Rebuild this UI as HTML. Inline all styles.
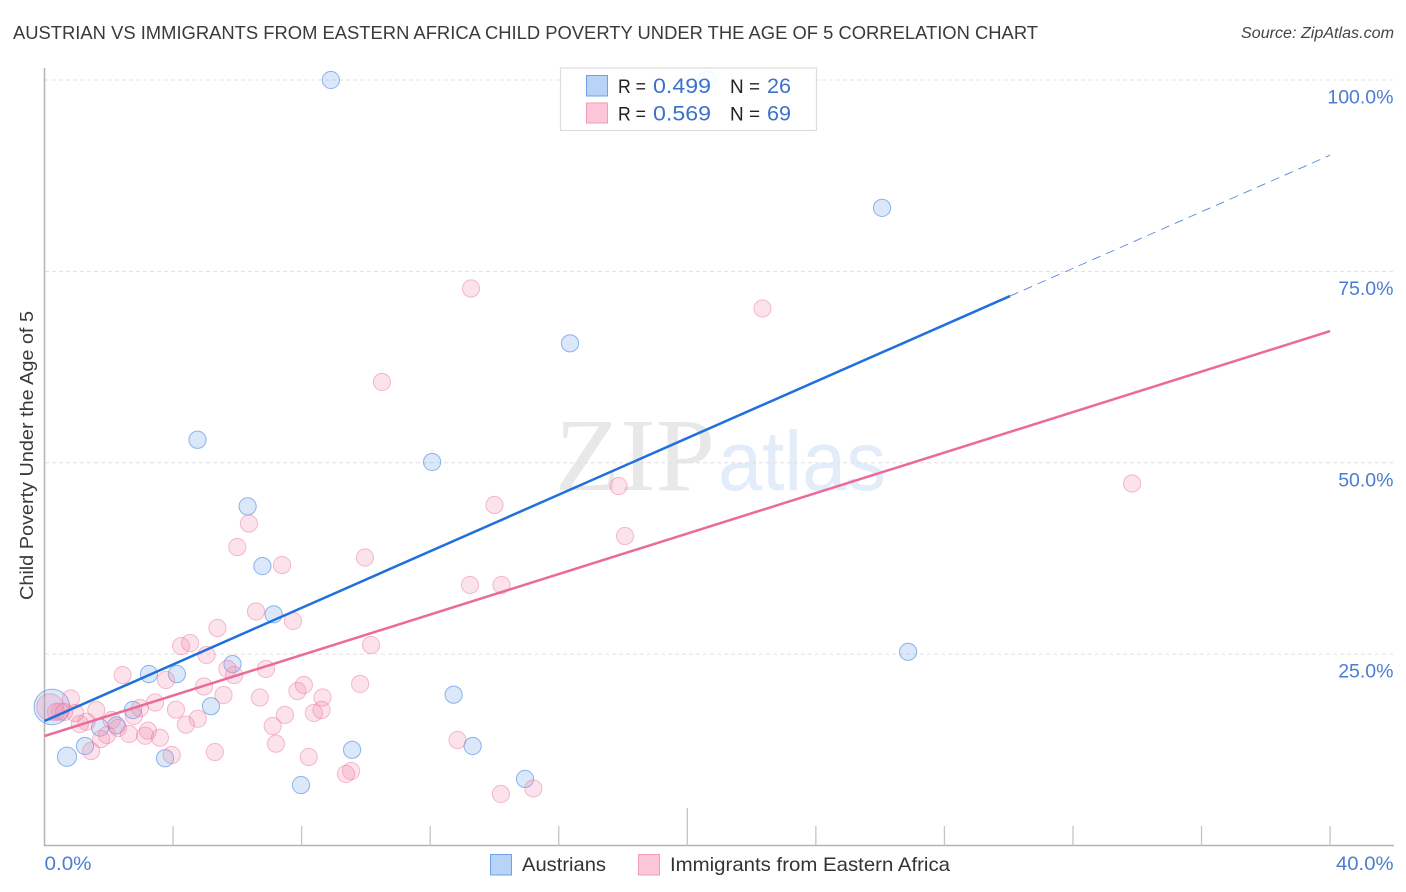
<!DOCTYPE html>
<html lang="en">
<head>
<meta charset="utf-8">
<title>Austrian vs Immigrants from Eastern Africa Child Poverty Correlation Chart</title>
<style>
html,body{margin:0;padding:0;background:#fff;}
svg{display:block;font-family:"Liberation Sans",sans-serif;}
</style>
</head>
<body>
<svg id="chart" xmlns="http://www.w3.org/2000/svg" width="1406" height="892" viewBox="0 0 1406 892">
  <rect width="1406" height="892" fill="#fff"/>
  <text x="13" y="39" font-size="18.5" fill="#3a3a3a" textLength="1025" lengthAdjust="spacingAndGlyphs">AUSTRIAN VS IMMIGRANTS FROM EASTERN AFRICA CHILD POVERTY UNDER THE AGE OF 5 CORRELATION CHART</text>
  <text x="1241" y="38" font-size="15.5" font-style="italic" fill="#444" textLength="153" lengthAdjust="spacingAndGlyphs">Source: ZipAtlas.com</text>
  <g>
    <text x="555" y="490" font-family="'Liberation Serif',serif" font-size="104" fill="#e8e8e8" textLength="160" lengthAdjust="spacingAndGlyphs">ZIP</text>
    <text x="718" y="490" font-size="84" fill="#e3ecf9" textLength="168" lengthAdjust="spacingAndGlyphs">atlas</text>
  </g>
  <g id="grid"></g>
  <g id="axes"></g>
  <g id="points"></g>
  <g id="trends"></g>
  <text transform="translate(33,455.5) rotate(-90)" font-size="18.5" fill="#3a3a3a" text-anchor="middle" textLength="289" lengthAdjust="spacingAndGlyphs">Child Poverty Under the Age of 5</text>

  <g>
    <rect x="560.5" y="68" width="256" height="62.5" fill="#fff" fill-opacity="0.88" stroke="#ddd" stroke-width="1.2"/>
    <rect x="586.5" y="75.5" width="21" height="20.5" fill="#b9d3f6" stroke="#6fa3e6"/>
    <rect x="586.5" y="103" width="21" height="20" fill="#fcc6d8" stroke="#f09dba"/>
    <text x="618" y="93" font-size="19.5" fill="#222" textLength="28" lengthAdjust="spacingAndGlyphs">R =</text>
    <text x="653" y="93" font-size="21" fill="#3a72cc" textLength="58" lengthAdjust="spacingAndGlyphs">0.499</text>
    <text x="730" y="93" font-size="19.5" fill="#222" textLength="30" lengthAdjust="spacingAndGlyphs">N =</text>
    <text x="767" y="93" font-size="21" fill="#3a72cc" textLength="24" lengthAdjust="spacingAndGlyphs">26</text>
    <text x="618" y="120.5" font-size="19.5" fill="#222" textLength="28" lengthAdjust="spacingAndGlyphs">R =</text>
    <text x="653" y="120.5" font-size="21" fill="#3a72cc" textLength="58" lengthAdjust="spacingAndGlyphs">0.569</text>
    <text x="730" y="120.5" font-size="19.5" fill="#222" textLength="30" lengthAdjust="spacingAndGlyphs">N =</text>
    <text x="767" y="120.5" font-size="21" fill="#3a72cc" textLength="24" lengthAdjust="spacingAndGlyphs">69</text>
  </g>

  <g>
    <rect x="490.5" y="854.5" width="21" height="20.5" fill="#b9d3f6" stroke="#6fa3e6"/>
    <text x="522" y="871" font-size="19.5" fill="#333" textLength="84" lengthAdjust="spacingAndGlyphs">Austrians</text>
    <rect x="638.5" y="854.5" width="21" height="20.5" fill="#fcc6d8" stroke="#f09dba"/>
    <text x="670" y="871" font-size="19.5" fill="#333" textLength="280" lengthAdjust="spacingAndGlyphs">Immigrants from Eastern Africa</text>
  </g>
</svg>
<script>
const xTickValues = [0,4,8,12,16,20,24,28,32,36,40];
const xTickLabelValues = [0,40];
const xTickLabels = ["0.0%","40.0%"];
const yGridValues = [25,50,75,100];
const yTickLabels = ["25.0%","50.0%","75.0%","100.0%"];

const austrianX = [8.91,20.61,26.06,16.35,4.76,12.06,6.32,6.78,7.13,26.87,5.85,3.25,4.12,5.18,12.73,2.75,2.24,1.73,1.26,0.70,3.75,0.23,9.57,13.32,14.95,7.98];
const austrianY = [100,100,83.3,65.6,53.0,50.1,44.3,36.5,30.2,25.3,23.7,22.4,22.4,18.2,19.7,17.7,15.7,15.4,13.0,11.6,11.4,18.1,12.5,13.0,8.7,7.9];
const austrianWeight = [1,1,1,1,1,1,1,1,1,1,1,1,1,1,1,1,1,1,1,1.25,1,4.3,1,1,1,1];

const immigrantX = [13.27,22.34,10.50,33.84,17.86,14.00,6.36,6.00,18.06,9.97,7.39,13.24,14.22,6.58,7.73,5.38,10.16,4.25,4.53,5.04,5.69,5.90,6.89,2.43,3.78,9.82,4.96,8.07,7.87,5.57,6.70,8.65,3.44,0.82,8.62,8.38,7.48,7.10,7.20,8.22,9.54,9.38,5.30,4.77,4.40,4.09,2.97,2.78,2.09,1.61,1.31,1.10,0.95,0.48,0.36,0.17,0.61,2.29,1.94,1.76,1.45,2.63,3.13,3.22,3.59,3.96,12.85,14.20,15.21];
const immigrantY = [72.76,70.15,60.55,47.29,46.96,44.48,42.06,38.99,40.43,37.62,36.64,34.03,34.03,30.57,29.33,28.41,26.19,26.06,26.45,24.89,23.06,22.27,23.06,22.27,21.62,21.10,20.77,20.97,20.18,19.66,19.33,19.33,18.68,19.20,17.70,17.31,17.05,15.61,13.30,11.56,9.73,9.34,12.21,16.56,15.78,17.74,17.96,16.92,16.39,17.70,16.17,15.87,17.31,17.48,17.44,18.09,17.44,15.35,14.43,13.91,12.34,14.57,14.34,15.00,14.08,11.82,13.78,6.73,7.45];
const immigrantWeight = [1,1,1,1,1,1,1,1,1,1,1,1,1,1,1,1,1,1,1,1,1,1,1,1,1,1,1,1,1,1,1,1,1,1,1,1,1,1,1,1,1,1,1,1,1,1,1,1,1,1,1,1,1,1,1,2.4,1,1,1,1,1,1,1,1,1,1,1,1,1];

const austrianTrend = [16.26,1.848];
const immigrantTrend = [14.3,1.3225];
const austrianSolidEnd = 30.04;
const trendEnd = 40;

const NS = "http://www.w3.org/2000/svg";
const xScale = v => 44.5 + v * 32.14;
const yScale = v => 845.5 - v * 7.655;
const trendY = (t, x) => t[0] + t[1] * x;

function node(parent, tag, attrs, text) {
  const el = document.createElementNS(NS, tag);
  for (const k of Object.keys(attrs)) el.setAttribute(k, attrs[k]);
  if (text !== undefined) el.textContent = text;
  parent.appendChild(el);
  return el;
}

const grid = document.getElementById("grid");
yGridValues.forEach(function (v, i) {
  const line = node(grid, "line", {x1: 45, x2: 1393.5, y1: yScale(v), y2: yScale(v), stroke: "#e0e0e0", "stroke-width": 1, "stroke-dasharray": "4 3"});
  
  
});

const axes = document.getElementById("axes");
const yAxis = node(axes, "line", {x1: 44.5, x2: 44.5, y1: 68, y2: 846, stroke: "#b4b4b4", "stroke-width": 1.5});


const xAxis = node(axes, "line", {x1: 44, x2: 1394, y1: 845.5, y2: 845.5, stroke: "#b4b4b4", "stroke-width": 1.5});



xTickValues.forEach(function (v) {
  if (v === 0) return;
  const top = v === 20 ? 808 : 826;
  const tick = node(axes, "line", {x1: xScale(v), x2: xScale(v), y1: top, y2: 845.5, stroke: "#c4c4c4", "stroke-width": 1.3});
  
  
});

xTickLabelValues.forEach(function (v, i) {
  const label = node(axes, "text", {
    x: i === 0 ? xScale(v) : 1336, y: 870, "font-size": 19.5, fill: "#4a7dd2",
    textLength: i === 0 ? 47 : 57.5, lengthAdjust: "spacingAndGlyphs"
  }, xTickLabels[i]);
  
  
});

yGridValues.forEach(function (v, i) {
  const label = node(axes, "text", {
    x: 1393.5, y: yScale(v) + 23.5, "font-size": 19.5, fill: "#4a7dd2", "text-anchor": "end"
  }, yTickLabels[i]);
  
  
});

const points = document.getElementById("points");
austrianX.forEach(function (x, i) {
  const c = node(points, "circle", {
    cx: xScale(x), cy: yScale(austrianY[i]), r: 8.6 * Math.sqrt(austrianWeight[i]),
    fill: "#6aa0ea", "fill-opacity": 0.24, stroke: "#4a88df", "stroke-opacity": 0.6, "stroke-width": 1
  });
  
  
});
immigrantX.forEach(function (x, i) {
  const c = node(points, "circle", {
    cx: xScale(x), cy: yScale(immigrantY[i]), r: 8.6 * Math.sqrt(immigrantWeight[i]),
    fill: "#f58aac", "fill-opacity": 0.25, stroke: "#e8729b", "stroke-opacity": 0.45, "stroke-width": 1
  });
  
  
});

const trends = document.getElementById("trends");
const blueSolid = node(trends, "line", {
  x1: xScale(0), y1: yScale(trendY(austrianTrend, 0)),
  x2: xScale(austrianSolidEnd), y2: yScale(trendY(austrianTrend, austrianSolidEnd)),
  stroke: "#1f6fdc", "stroke-width": 2.5
});


const blueDash = node(trends, "line", {
  x1: xScale(austrianSolidEnd), y1: yScale(trendY(austrianTrend, austrianSolidEnd)),
  x2: xScale(trendEnd), y2: yScale(trendY(austrianTrend, trendEnd)),
  stroke: "#5a88d6", "stroke-width": 0.9, "stroke-dasharray": "9 6"
});


const pinkSolid = node(trends, "line", {
  x1: xScale(0), y1: yScale(trendY(immigrantTrend, 0)),
  x2: xScale(trendEnd), y2: yScale(trendY(immigrantTrend, trendEnd)),
  stroke: "#eb6a98", "stroke-width": 2.5
});


</script>
</body>
</html>
